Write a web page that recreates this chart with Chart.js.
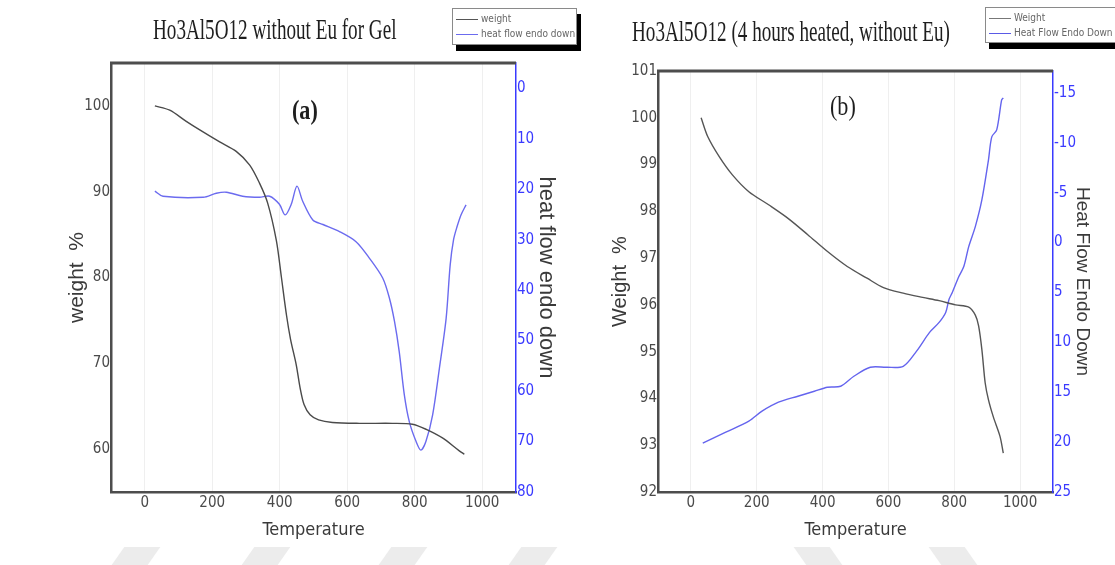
<!DOCTYPE html>
<html>
<head>
<meta charset="utf-8">
<title>Ho3Al5O12 TGA / DSC</title>
<script src="https://cdn.jsdelivr.net/npm/chart.js@4.4.1/dist/chart.umd.min.js"></script>
<style>
  body { margin: 0; background: #fff; }
  #page { position: relative; width: 1115px; height: 565px; overflow: hidden; background: #fff; }
  .panel { position: absolute; top: 0; height: 565px; z-index: 1; }
  #panelA { left: 0; width: 557px; }
  #panelB { left: 557px; width: 558px; }
  .title { position: absolute; font-family: "Liberation Serif", "Times New Roman", serif; font-size: 29px; line-height: 29px;
           color: #1e1e1e; white-space: nowrap; transform: scaleX(0.66); transform-origin: left center; z-index: 2; }
  .tag { position: absolute; font-family: "Liberation Serif", "Times New Roman", serif; font-size: 27px; line-height: 27px;
         color: #1e1e1e; white-space: nowrap; transform: scaleX(0.82); transform-origin: left center; z-index: 2; }
  .legend { position: absolute; background: #fff; border: 1px solid #8a8a8a; box-shadow: 4px 6px 0 #000; z-index: 3;
            font-family: "DejaVu Sans Condensed", "Liberation Sans Narrow", "Liberation Sans", Arial, sans-serif; font-size: 10px; color: #666; }
  .legend div { height: 15px; line-height: 15px; white-space: nowrap; }
  .legend span { display: inline-block; width: 22px; height: 0; border-top: 1px solid; vertical-align: middle; margin: 0 3px 0 3px; }
  .wm { position: absolute; top: 547px; height: 18px; width: 36px; background: #ececec; z-index: 0; }
</style>
</head>
<body>
<div id="page">
  <div class="wm" style="left:118px; transform: skewX(-35deg);"></div>
  <div class="wm" style="left:248px; transform: skewX(-35deg);"></div>
  <div class="wm" style="left:385px; transform: skewX(-35deg);"></div>
  <div class="wm" style="left:515px; transform: skewX(-35deg);"></div>
  <div class="wm" style="left:800px; transform: skewX(35deg);"></div>
  <div class="wm" style="left:935px; transform: skewX(35deg);"></div>

  <div class="panel" id="panelA"><canvas id="chartA"></canvas></div>
  <div class="panel" id="panelB"><canvas id="chartB"></canvas></div>

  <div class="title" style="left:153px; top:15px;">Ho3Al5O12 without Eu for Gel</div>
  <div class="title" style="left:632px; top:17px;">Ho3Al5O12 (4 hours heated, without Eu)</div>
  <div class="tag" style="left:292px; top:97px; font-weight:bold;">(a)</div>
  <div class="tag" style="left:830px; top:93px;">(b)</div>

  <div class="legend" style="left:452px; top:8px; width:123px; height:35px;">
    <div style="margin-top:2px;"><span style="border-color:#555;"></span>weight</div>
    <div><span style="border-color:#6b6bef;"></span>heat flow endo down</div>
  </div>
  <div class="legend" style="left:985px; top:7px; width:135px; height:34px;">
    <div style="margin-top:2px;"><span style="border-color:#777;"></span>Weight</div>
    <div><span style="border-color:#5a5ae6;"></span>Heat Flow Endo Down</div>
  </div>
</div>

<script>
// (a) gel sample
var tempWeightA = [30, 74, 123, 163, 222, 271, 311, 340, 364, 390, 405, 420, 432, 449, 460, 472, 490, 515, 556, 636, 734, 793, 834, 882, 932, 947];
var weightA     = [100.0, 99.5, 98.2, 97.2, 95.8, 94.7, 93.1, 91.0, 88.7, 84.3, 80.0, 75.6, 72.8, 69.8, 67.2, 65.2, 64.0, 63.4, 63.1, 63.0, 63.0, 62.9, 62.3, 61.3, 59.8, 59.4];
var tempHeatA   = [30, 54, 173, 212, 242, 290, 340, 370, 399, 416, 434, 451, 468, 498, 528, 577, 626, 666, 705, 725, 740, 754, 769, 784, 804, 818, 833, 853, 873, 893, 905, 915, 925, 937, 952];
var heatA       = [20.4, 21.4, 21.6, 20.8, 20.6, 21.4, 21.6, 21.4, 23.0, 25.1, 23.0, 19.4, 22.4, 26.1, 27.0, 28.4, 30.4, 33.7, 37.6, 41.6, 46.2, 52.2, 60.7, 66.1, 70.0, 71.7, 70.0, 64.7, 55.5, 45.6, 35.0, 30.0, 27.5, 25.1, 23.1];

// (b) 4 hours heated
var tempWeightB = [31, 51, 86, 126, 176, 236, 295, 355, 415, 475, 535, 585, 645, 704, 754, 804, 844, 864, 874, 884, 894, 904, 919, 939, 949];
var weightB     = [100.0, 99.6, 99.17, 98.78, 98.42, 98.14, 97.85, 97.5, 97.14, 96.82, 96.57, 96.37, 96.25, 96.16, 96.09, 96.0, 95.95, 95.78, 95.55, 95.04, 94.33, 93.97, 93.6, 93.19, 92.83];
var tempHeatB   = [36, 106, 176, 216, 266, 325, 375, 415, 455, 495, 545, 595, 645, 685, 725, 754, 774, 784, 794, 814, 829, 844, 864, 884, 904, 914, 929, 944, 949];
var heatB       = [20.1, 19.0, 17.9, 16.9, 16.0, 15.4, 14.9, 14.5, 14.4, 13.4, 12.5, 12.5, 12.4, 10.9, 9.0, 8.0, 7.0, 5.7, 5.0, 3.4, 2.4, 0.4, -1.6, -4.3, -8.3, -10.6, -11.3, -14.3, -14.5];

// tick labels
var tempTicks    = [0, 200, 400, 600, 800, 1000];
var weightTicksA = [60, 70, 80, 90, 100];
var heatTicksA   = [0, 10, 20, 30, 40, 50, 60, 70, 80];
var weightTicksB = [92, 93, 94, 95, 96, 97, 98, 99, 100, 101];
var heatTicksB   = [-15, -10, -5, 0, 5, 10, 15, 20, 25];

var narrow = '"DejaVu Sans Condensed", "Liberation Sans Narrow", "Liberation Sans", Arial, sans-serif';
var tickFont = { family: narrow, size: 15 };
var sansFont = '"Liberation Sans", Arial, sans-serif';
var frameColor = '#4d4d4d';
var blueAxis = '#3a3aff';

function pts(xs, ys) {
    return xs.map(function (x, i) { return { x: x, y: ys[i] }; });
}

function fixedTicks(values) {
    return function (scale) {
        scale.ticks = values.map(function (v) { return { value: v }; });
    };
}

// top edge of the plot box
var topBorder = {
    id: 'topBorder',
    afterDraw: function (chart) {
        var a = chart.chartArea, ctx = chart.ctx;
        ctx.save();
        ctx.strokeStyle = frameColor;
        ctx.lineWidth = 3;
        ctx.beginPath();
        ctx.moveTo(a.left - 1, a.top);
        ctx.lineTo(a.right, a.top);
        ctx.stroke();
        ctx.restore();
    }
};

function makeChart(id, o) {
    return new Chart(document.getElementById(id), {
        type: 'line',
        data: {
            datasets: [{
                label: o.weightLabel,
                data: o.weight,
                yAxisID: 'y',
                borderColor: o.weightColor,
                borderWidth: 1.4,
                pointRadius: 0,
                tension: 0.3
            }, {
                label: o.heatLabel,
                data: o.heat,
                yAxisID: 'y1',
                borderColor: o.heatColor,
                borderWidth: 1.4,
                pointRadius: 0,
                tension: 0.3
            }]
        },
        options: {
            responsive: true,
            maintainAspectRatio: false,
            animation: false,
            events: [],
            layout: { padding: { top: o.top, left: 0, right: 0, bottom: 0 } },
            plugins: { legend: { display: false }, tooltip: { enabled: false } },
            scales: {
                x: {
                    type: 'linear', min: -100, max: 1100,
                    afterBuildTicks: fixedTicks(tempTicks),
                    afterFit: function (s) { s.height = 73; },
                    grid: { color: '#efefef', drawTicks: false },
                    border: { color: frameColor, width: 2.5 },
                    ticks: { font: tickFont, color: '#4a4a4a', padding: 2, maxRotation: 0, autoSkip: false,
                             callback: function (v) { return String(v); } },
                    title: { display: true, text: 'Temperature', color: '#3a3a3a',
                             font: { family: narrow, size: 18 }, padding: { top: 0, bottom: 24 } }
                },
                y: {
                    position: 'left', min: o.wMin, max: o.wMax,
                    afterBuildTicks: fixedTicks(o.wTicks),
                    afterFit: function (s) { s.width = o.leftW; },
                    grid: { display: false, drawTicks: false },
                    border: { color: frameColor, width: 2.5 },
                    ticks: { font: tickFont, color: '#4a4a4a', padding: 1, autoSkip: false,
                             callback: function (v) { return String(v); } },
                    title: { display: true, text: o.wTitle, color: '#3a3a3a',
                             font: { family: sansFont, size: o.wTitleSize, lineHeight: 1 }, padding: { top: o.wTitlePad, bottom: 0 } }
                },
                y1: {
                    position: 'right', reverse: true, min: o.hMin, max: o.hMax,
                    afterBuildTicks: fixedTicks(o.hTicks),
                    afterFit: function (s) { s.width = o.rightW; },
                    grid: { display: false, drawTicks: false },
                    border: { color: blueAxis, width: 1.5 },
                    ticks: { font: tickFont, color: blueAxis, padding: 1, autoSkip: false,
                             callback: function (v) { return String(v); } },
                    title: { display: true, text: o.hTitle, color: '#3a3a3a',
                             font: { family: sansFont, size: o.hTitleSize, lineHeight: 1 }, padding: { top: o.hTitlePad, bottom: 0 } }
                }
            }
        },
        plugins: [topBorder]
    });
}

makeChart('chartA', {
    weight: pts(tempWeightA, weightA), heat: pts(tempHeatA, heatA),
    weightLabel: 'weight', heatLabel: 'heat flow endo down',
    weightColor: '#4a4a4a', heatColor: '#6b6bef',
    top: 63, leftW: 111, rightW: 41,
    wMin: 55, wMax: 105, wTicks: weightTicksA,
    hMin: -5, hMax: 80, hTicks: heatTicksA,
    wTitle: 'weight  %', wTitleSize: 21, wTitlePad: 67,
    hTitle: 'heat flow endo down', hTitleSize: 22, hTitlePad: 0
});

makeChart('chartB', {
    weight: pts(tempWeightB, weightB), heat: pts(tempHeatB, heatB),
    weightLabel: 'Weight', heatLabel: 'Heat Flow Endo Down',
    weightColor: '#555555', heatColor: '#6464ee',
    top: 71, leftW: 101, rightW: 62,
    wMin: 92, wMax: 101, wTicks: weightTicksB,
    hMin: -17.2, hMax: 25, hTicks: heatTicksB,
    wTitle: 'Weight  %', wTitleSize: 20, wTitlePad: 53,
    hTitle: 'Heat Flow Endo Down', hTitleSize: 19, hTitlePad: 23
});
</script>
</body>
</html>
